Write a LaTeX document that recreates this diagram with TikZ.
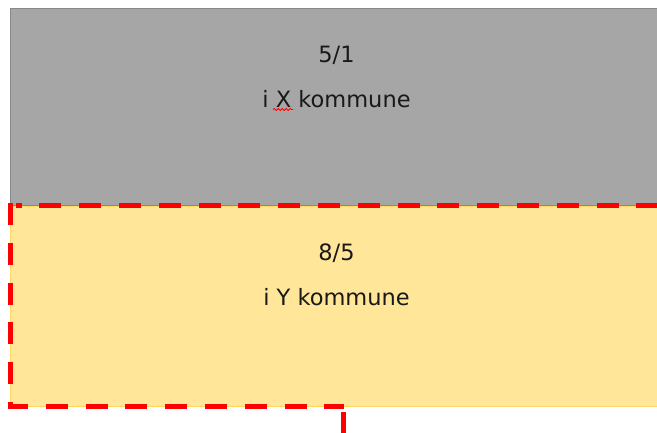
\documentclass[tikz,border=0pt]{standalone}
\usepackage{fontspec}
\setmainfont{DejaVu Sans}
\usepackage{tikz}
\usetikzlibrary{calc}
\usetikzlibrary{math}
\usetikzlibrary{decorations.pathmorphing}
\definecolor{grisfond}{HTML}{A6A6A6}
\definecolor{grisbord}{HTML}{898989}
\definecolor{jaunefond}{HTML}{FFE699}
\definecolor{jaunebord}{HTML}{FFD966}
\begin{document}
\begin{tikzpicture}[x=1pt,y=-1pt,
    limite/.style={draw=red,line width=5pt,dash pattern=on 22pt off 17.8pt,miter limit=10},
    texte/.style={anchor=base,inner sep=0pt,font=\fontsize{22.5}{27}\selectfont,text=black!90}]
            \tikzmath{\gauche = 10.5; \droite = 700;}
            \useasboundingbox (0,0) rectangle (657,432);
            \clip (0,0) rectangle (657,432);
            \coordinate (A) at (\gauche,8);
            \coordinate (B) at (\droite,205.5);
            \coordinate (C) at (\gauche,206);
            \coordinate (D) at (\droite,406.5);
            \draw[grisbord,fill=grisfond,line width=1pt] (A) rectangle (B);
            \draw[jaunebord,fill=jaunefond,line width=1pt] (C) rectangle (D);
            \foreach \n/\t/\y in {n51/5\slash1/62.7,nx/i X kommune/107.3,n85/8\slash5/260.7,ny/i Y kommune/305.7} {
                \node[texte] (\n) at (336.5,\y) {\t};
            }
            \draw[red,line width=0.8pt,decorate,decoration={snake,amplitude=1.1pt,segment length=4pt}]
                (273,109.5) -- (293,109.5);
            \coordinate (P1) at (657,205.3);
            \coordinate (P2) at (16,205.3);
            \coordinate (Q1) at (10.5,203);
            \coordinate (Q2) at (10.5,406.5);
            \coordinate (Q3) at (343.5,406.5);
            \coordinate (R1) at (343.5,412);
            \coordinate (R2) at (343.5,440);
            \draw[limite,dash phase=1.3pt] (P1) -- (P2);
            \draw[limite] (Q1) -- (Q2) -- (Q3);
            \draw[limite] (R1) -- (R2);
        \end{tikzpicture}
\end{document}
